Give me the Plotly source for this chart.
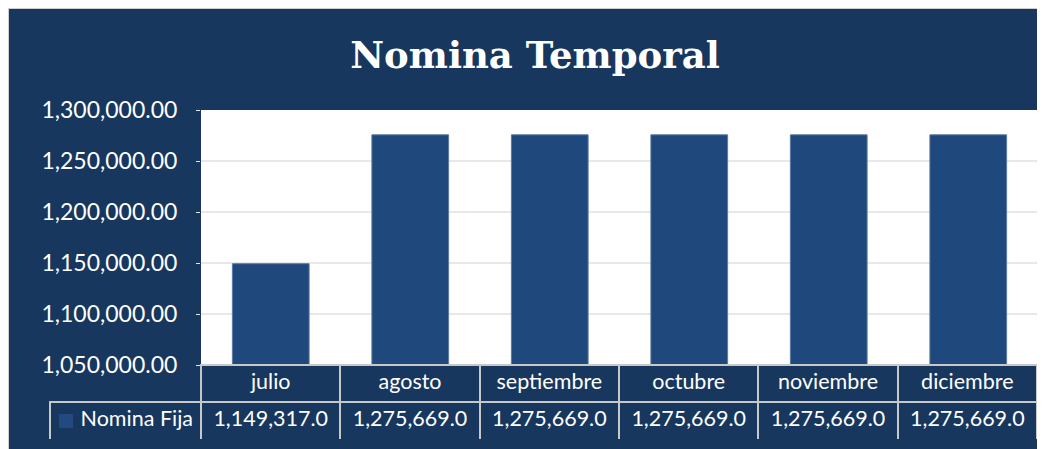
import plotly.graph_objects as go

months = ["julio", "agosto", "septiembre", "octubre", "noviembre", "diciembre"]
nomina_fija = [1149317.0, 1275669.0, 1275669.0, 1275669.0, 1275669.0, 1275669.0]
series_name = "Nomina Fija"
title_text = "Nomina Temporal"

BG = "#17375e"
BAR = "#1f497d"
GRID = "#e8e8e8"
BORDER = "#c8c8c8"

# page body keeps an 8px margin, so the figure is 8px smaller than the window
W, H = 1037, 441
OFF = 8


def px(v):
    return (v - OFF) / W


def py(v):
    return 1 - (v - OFF) / H


fig = go.Figure()
fig.add_trace(
    go.Bar(
        x=months,
        y=nomina_fija,
        name=series_name,
        marker=dict(color=BAR, line=dict(color="#5b7aa3", width=1)),
        showlegend=False,
    )
)

# data table under the chart
n = len(months)
header_vals = [""] + months
cell_vals = [[series_name]] + [[f"{v:,.1f}"] for v in nomina_fija]
fig.add_trace(
    go.Table(
        domain=dict(x=[px(50), px(1037)], y=[py(440), py(365)]),
        columnwidth=[151] + [139.3] * n,
        header=dict(
            values=header_vals,
            fill_color=["rgba(0,0,0,0)"] + [BG] * n,
            line=dict(color=["rgba(0,0,0,0)"] + [BORDER] * n, width=2),
            font=dict(family="Lato", size=21.5, color="white"),
            align="center",
            height=37,
        ),
        cells=dict(
            values=cell_vals,
            fill_color=BG,
            line=dict(color=BORDER, width=2),
            font=dict(family="Lato", size=21.5, color="white"),
            align=["right"] + ["center"] * n,
            height=38,
        ),
    )
)

fig.update_layout(
    width=W,
    height=H,
    margin=dict(l=0, r=0, t=0, b=0),
    paper_bgcolor=BG,
    plot_bgcolor="white",
    bargap=0.45,
    title=dict(
        text=f"<b>{title_text}</b>",
        x=px(535),
        xanchor="center",
        y=py(55),
        yanchor="middle",
        font=dict(family="DejaVu Serif", size=37, color="white"),
    ),
    xaxis=dict(
        domain=[px(201), px(1038)],
        showticklabels=False,
        showgrid=False,
        zeroline=False,
        showline=False,
        automargin=False,
    ),
    yaxis=dict(
        domain=[py(365), py(110)],
        range=[1050000, 1300000],
        dtick=50000,
        tickformat=",.2f",
        showgrid=True,
        gridcolor=GRID,
        gridwidth=2,
        zeroline=False,
        ticks="outside",
        ticklen=4,
        tickcolor=GRID,
        ticklabelstandoff=14,
        tickfont=dict(family="Lato", size=23, color="white"),
        automargin=False,
    ),
    shapes=[
        dict(type="line", xref="paper", yref="paper", x0=0, x1=0, y0=0, y1=1,
             line=dict(color="#cfcfcf", width=2)),
        dict(type="line", xref="paper", yref="paper", x0=0, x1=1, y0=1, y1=1,
             line=dict(color="#cfcfcf", width=2)),
        # legend key in the table row
        dict(type="rect", xref="paper", yref="paper", x0=px(59), x1=px(73),
             y0=py(428), y1=py(414), fillcolor="#224a7e", line=dict(width=0),
             layer="above"),
    ],
)

fig.write_html("out.html")
